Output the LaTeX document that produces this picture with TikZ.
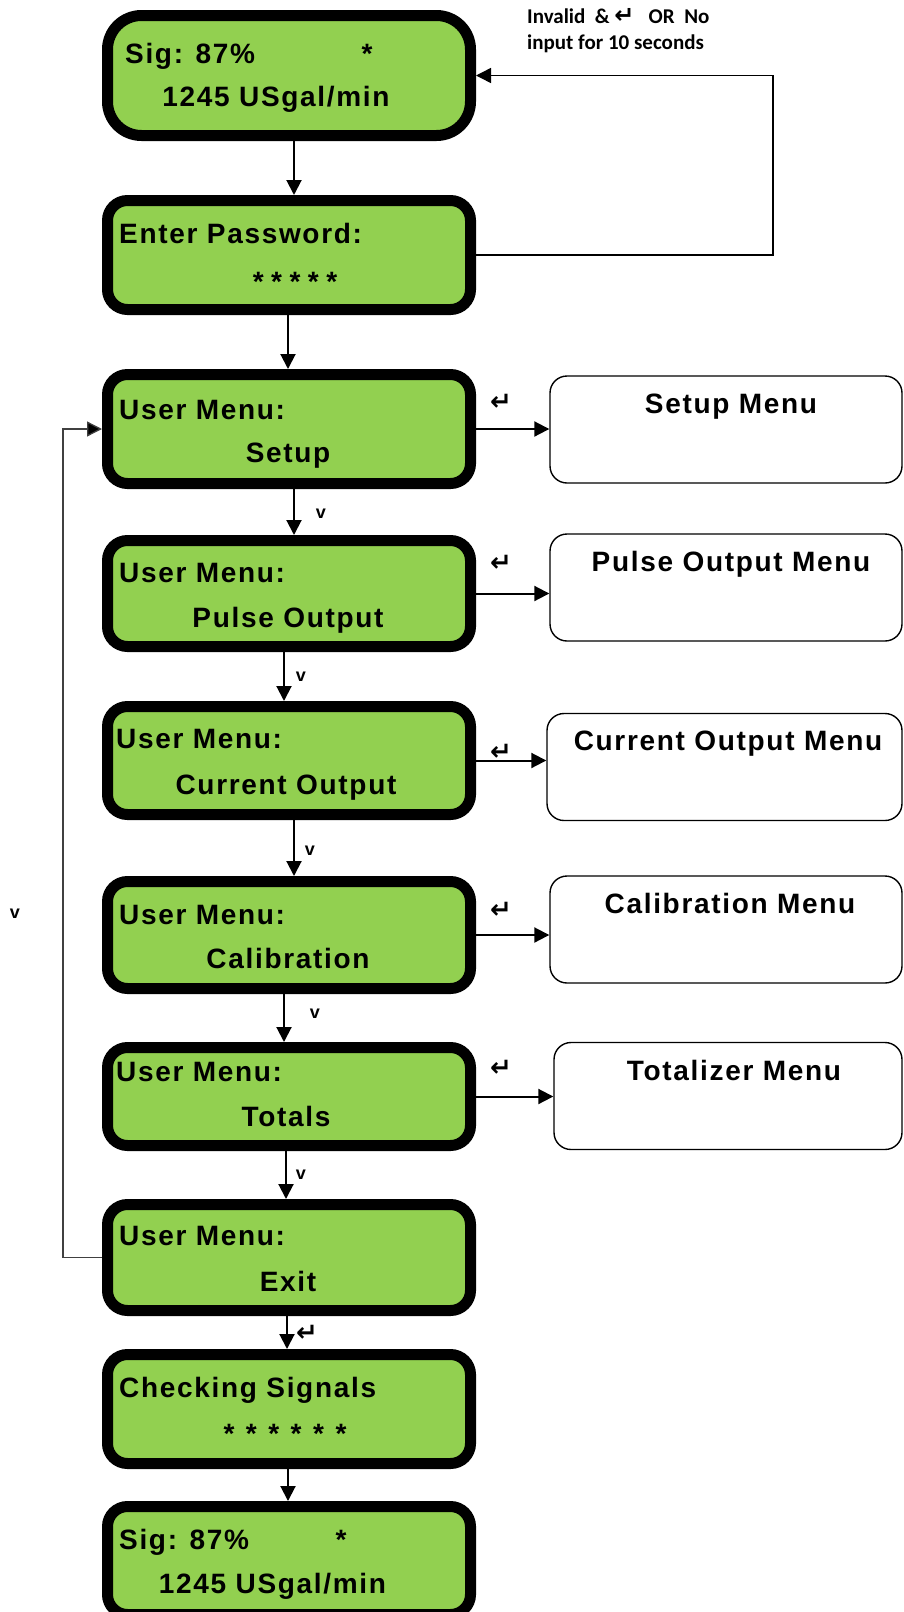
\documentclass[tikz,border=0pt]{standalone}
\usepackage{fontspec}
\setmainfont{Liberation Sans}
\newfontfamily\notefont{Carlito}
\newfontfamily\arrowfont{DejaVu Sans}
\usetikzlibrary{arrows.meta}
\definecolor{lcdgreen}{HTML}{92D050}
\newcommand{\entkey}{{\arrowfont\bfseries\fontsize{26}{26}\selectfont ↵}}
\tikzset{
  lcd/.style={draw, line width=11pt, fill=lcdgreen, rounded corners=20pt, minimum width=363pt, inner sep=0pt},
  lcdtext/.style={font=\fontsize{28}{30}\selectfont\bfseries\addfontfeatures{LetterSpace=6}, inner sep=0pt},
  submenu/.style={draw, line width=1.4pt, rounded corners=17pt, minimum width=352pt, minimum height=107pt},
  keylabel/.style={font=\fontsize{18}{18}\selectfont\bfseries, inner sep=0pt},
  note/.style={font=\fontsize{21}{21}\selectfont\notefont\bfseries, inner sep=0pt, anchor=west},
  flow/.style={line width=2pt, -{Triangle[length=15pt, width=15pt]}},
  backline/.style={line width=1.3pt, draw=black!75, -{Triangle[length=15pt, width=15pt, fill=black]}},
}

\begin{document}
\begin{tikzpicture}[x=1pt, y=-1pt]
  \useasboundingbox (0,0) rectangle (904,1612);

  % display screens
  \node[lcd, rounded corners=34pt, minimum height=120pt] (b1) at (289,75.5) {};
  \node[lcd, minimum height=109pt] (b2) at (289,255) {};
  \node[lcd, minimum height=109pt] (b3) at (289,429) {};
  \node[lcd, minimum height=106pt] (b4) at (289,593.5) {};
  \node[lcd, minimum height=108pt] (b5) at (289,760.5) {};
  \node[lcd, minimum height=107pt] (b6) at (289,935) {};
  \node[lcd, minimum height=98pt] (b7) at (289,1096.5) {};
  \node[lcd, minimum height=106pt] (b8) at (289,1257.5) {};
  \node[lcd, minimum height=109pt] (b9) at (289,1409) {};
  \node[lcd, minimum height=108pt] (b10) at (289,1560.5) {};

  \node[lcdtext, anchor=base west] (b1a) at (125,63) {Sig: 87\%};
  \node[lcdtext, anchor=base] (b1s) at (367,63) {*};
  \node[lcdtext, anchor=base] (b1b) at (276,106) {1245 USgal/min};
  \node[lcdtext, anchor=base west] (b2a) at (119,243) {Enter Password:};
  \node[lcdtext, anchor=base] (b2b) at (295,291) {*\hspace{7.5pt}*\hspace{7.5pt}*\hspace{7.5pt}*\hspace{7.5pt}*};
  \node[lcdtext, anchor=base west] (b3a) at (119,419) {User Menu:};
  \node[lcdtext, anchor=base] (b3b) at (288,462.5) {Setup};
  \node[lcdtext, anchor=base west] (b4a) at (119,582) {User Menu:};
  \node[lcdtext, anchor=base] (b4b) at (288,627) {Pulse Output};
  \node[lcdtext, anchor=base west] (b5a) at (116,748) {User Menu:};
  \node[lcdtext, anchor=base] (b5b) at (286,794) {Current Output};
  \node[lcdtext, anchor=base west] (b6a) at (119,924) {User Menu:};
  \node[lcdtext, anchor=base] (b6b) at (288,968.5) {Calibration};
  \node[lcdtext, anchor=base west] (b7a) at (116,1081) {User Menu:};
  \node[lcdtext, anchor=base] (b7b) at (286,1126) {Totals};
  \node[lcdtext, anchor=base west] (b8a) at (119,1245) {User Menu:};
  \node[lcdtext, anchor=base] (b8b) at (288,1291) {Exit};
  \node[lcdtext, anchor=base west] (b9a) at (119,1397) {Checking Signals};
  \node[lcdtext, anchor=base] (b9b) at (285,1443) {*\hspace{11.5pt}*\hspace{11.5pt}*\hspace{11.5pt}*\hspace{11.5pt}*\hspace{11.5pt}*};
  \node[lcdtext, anchor=base west] (b10a) at (119,1549) {Sig: 87\%};
  \node[lcdtext, anchor=base] (b10s) at (341,1549) {*};
  \node[lcdtext, anchor=base] (b10b) at (272.5,1593) {1245 USgal/min};

  % sub menus
  \node[submenu] (m3) at (726,429.5) {};
  \node[submenu] (m4) at (726,587.5) {};
  \node[submenu, minimum width=355pt] (m5) at (724.5,767) {};
  \node[submenu] (m6) at (726,929.5) {};
  \node[submenu, minimum width=348pt] (m7) at (728,1096) {};
  \node[lcdtext, anchor=base] (m3t) at (731,413) {Setup Menu};
  \node[lcdtext, anchor=base] (m4t) at (731,571) {Pulse Output Menu};
  \node[lcdtext, anchor=base] (m5t) at (728,750) {Current Output Menu};
  \node[lcdtext, anchor=base] (m6t) at (730,913) {Calibration Menu};
  \node[lcdtext, anchor=base] (m7t) at (734,1080) {Totalizer Menu};

  % main flow
  \draw[flow] ([xshift=5]b1.south) -- ([xshift=5]b2.north);
  \draw[flow] ([xshift=-1]b2.south) -- ([xshift=-1]b3.north);
  \draw[flow] ([xshift=5]b3.south) -- ([xshift=5]b4.north);
  \draw[flow] ([xshift=-5]b4.south) -- ([xshift=-5]b5.north);
  \draw[flow] ([xshift=5]b5.south) -- ([xshift=5]b6.north);
  \draw[flow] ([xshift=-5]b6.south) -- ([xshift=-5]b7.north);
  \draw[flow] ([xshift=-3]b7.south) -- ([xshift=-3]b8.north);
  \draw[flow] ([xshift=-2]b8.south) -- ([xshift=-2]b9.north);
  \draw[flow] ([xshift=-1]b9.south) -- ([xshift=-1]b10.north);
  \node[keylabel] (k1) at (321,514) {v};
  \node[keylabel] (k2) at (301,677) {v};
  \node[keylabel] (k3) at (310,851) {v};
  \node[keylabel] (k4) at (315,1014) {v};
  \node[keylabel] (k5) at (301,1175) {v};
  \node[keylabel] (k6) at (307,1333) {\entkey};

  % into sub menus
  \draw[flow] (b3.east) -- (b3.east -| m3.west);
  \draw[flow] (b4.east) -- (b4.east -| m4.west);
  \draw[flow] (b5.east) -- (b5.east -| m5.west);
  \draw[flow] (b6.east) -- (b6.east -| m6.west);
  \draw[flow] (b7.east) -- (b7.east -| m7.west);
  \node[keylabel] (e3) at (501,402) {\entkey};
  \node[keylabel] (e4) at (501,563) {\entkey};
  \node[keylabel] (e5) at (501,752) {\entkey};
  \node[keylabel] (e6) at (501,910) {\entkey};
  \node[keylabel] (e7) at (501,1068) {\entkey};

  % back loops
  \coordinate (fb) at (773,0);
  \draw[flow, line width=1.5pt] (b2.east) -| (fb |- b1.east) -- (b1.east);
  \node[note] (n1) at (527,16) {Invalid\ \ \&\ {\arrowfont\fontsize{24}{24}\selectfont ↵}\ \ \ OR\ \ No};
  \node[note] (n2) at (527,44) {input for 10 seconds};
  \coordinate (lp) at (63,0);
  \draw[backline] (b8.west) -| (lp |- b3.west) -- (b3.west);
  \node[keylabel] (k7) at (15,914) {v};
\end{tikzpicture}
\end{document}
